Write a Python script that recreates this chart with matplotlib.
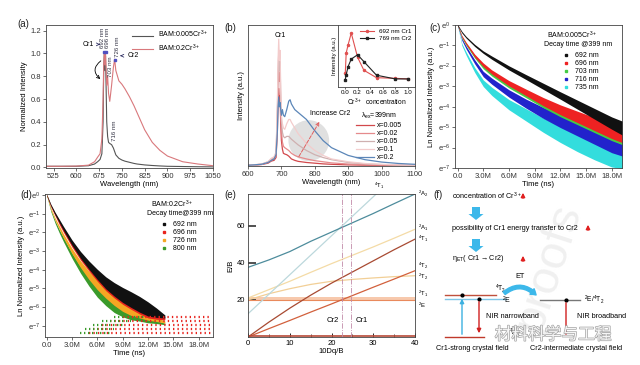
import numpy as np
import matplotlib.pyplot as plt
import matplotlib.patheffects as pe
from matplotlib.patches import FancyArrow, Ellipse
from matplotlib.lines import Line2D

plt.rcParams['font.family'] = ['Liberation Sans', 'DejaVu Sans']
plt.rcParams['mathtext.default'] = 'regular'
plt.rcParams['font.size'] = 5.5
plt.rcParams['axes.linewidth'] = 0.6
plt.rcParams['axes.edgecolor'] = '#444444'

# ---------------- data ----------------
# (a) normalized emission spectra
wl_a = [500, 550, 600, 640, 660, 670, 678, 684, 688, 690, 692, 694, 696, 698, 700, 703, 706, 710,
        716, 722, 726, 730, 740, 750, 760, 775, 790, 800, 825, 850, 875, 900, 950, 1000, 1050]
bam_005 = [0.01, 0.01, 0.01, 0.015, 0.03, 0.05, 0.07, 0.12, 0.4, 0.85, 1.0, 0.85, 0.98, 0.7, 0.4,
           0.27, 0.22, 0.21, 0.2, 0.17, 0.14, 0.11, 0.08, 0.065, 0.055, 0.045, 0.035, 0.03, 0.022,
           0.017, 0.013, 0.01, 0.008, 0.006, 0.005]
bam_02 = [0.01, 0.01, 0.012, 0.02, 0.05, 0.09, 0.12, 0.25, 0.6, 0.9, 1.0, 0.9, 1.0, 0.85, 0.72,
          0.8, 0.65, 0.58, 0.72, 0.88, 0.95, 0.85, 0.76, 0.73, 0.69, 0.62, 0.54, 0.48, 0.33, 0.22,
          0.15, 0.1, 0.05, 0.03, 0.015]

# (b) emission vs Cr content
wl_b = [600, 640, 660, 670, 678, 684, 688, 690, 692, 694, 696, 698, 700, 703, 706, 710, 716, 722,
        726, 730, 740, 750, 775, 800, 825, 850, 900, 950, 1000, 1050, 1100]
em_x0005 = [0.005, 0.01, 0.02, 0.035, 0.04, 0.06, 0.25, 0.45, 0.55, 0.45, 0.5, 0.3, 0.18, 0.12,
            0.09, 0.085, 0.08, 0.07, 0.06, 0.05, 0.04, 0.033, 0.025, 0.02, 0.015, 0.012, 0.008,
            0.006, 0.005, 0.004, 0.003]
em_x002 = [0.005, 0.012, 0.025, 0.045, 0.05, 0.08, 0.35, 0.6, 0.72, 0.6, 0.66, 0.4, 0.25, 0.17,
           0.14, 0.13, 0.12, 0.11, 0.1, 0.09, 0.075, 0.065, 0.05, 0.038, 0.03, 0.022, 0.014, 0.01,
           0.007, 0.005, 0.004]
em_x005 = [0.005, 0.012, 0.03, 0.05, 0.06, 0.09, 0.4, 0.68, 0.8, 0.68, 0.74, 0.5, 0.32, 0.24,
           0.21, 0.2, 0.21, 0.21, 0.2, 0.19, 0.17, 0.15, 0.11, 0.08, 0.06, 0.045, 0.025, 0.015,
           0.01, 0.007, 0.005]
em_x01 = [0.005, 0.014, 0.03, 0.055, 0.065, 0.1, 0.45, 0.75, 0.9, 0.75, 0.82, 0.55, 0.36, 0.3,
          0.27, 0.26, 0.3, 0.33, 0.33, 0.31, 0.27, 0.23, 0.16, 0.11, 0.075, 0.05, 0.03, 0.018,
          0.012, 0.008, 0.006]
em_x02 = [0.005, 0.012, 0.025, 0.04, 0.05, 0.08, 0.25, 0.42, 0.49, 0.42, 0.45, 0.4, 0.36, 0.4,
          0.36, 0.35, 0.4, 0.46, 0.47, 0.44, 0.4, 0.38, 0.33, 0.25, 0.18, 0.13, 0.075, 0.045,
          0.028, 0.018, 0.012]
b_labels = ['x=0.005', 'x=0.02', 'x=0.05', 'x=0.1', 'x=0.2']

# (b) inset
conc = [0.005, 0.02, 0.05, 0.1, 0.2, 0.3, 0.5, 0.8, 1.0]
int_cr1 = [0.22, 0.55, 0.68, 0.87, 0.48, 0.27, 0.15, 0.14, 0.13]
int_cr2 = [0.12, 0.2, 0.33, 0.45, 0.52, 0.41, 0.19, 0.13, 0.13]

# (c) decay, BAM:0.005Cr  (ln intensity, centre and half spread)
t_c = [0, 0.5, 1, 2, 3, 4, 6, 8, 10, 12, 14, 16, 18, 19.5]
c_labels = ['692 nm', '696 nm', '703 nm', '716 nm', '735 nm']
c_mid = [
    [0, -0.35, -0.6, -1.0, -1.33, -1.6, -2.1, -2.55, -3.0, -3.45, -3.9, -4.35, -4.8, -5.1],
    [0, -0.55, -0.9, -1.5, -1.95, -2.3, -2.85, -3.3, -3.75, -4.15, -4.5, -4.85, -5.2, -5.4],
    [0, -0.6, -0.95, -1.55, -2.05, -2.4, -2.95, -3.4, -3.85, -4.25, -4.6, -4.95, -5.3, -5.5],
    [0, -0.7, -1.1, -1.8, -2.4, -2.75, -3.35, -3.85, -4.3, -4.7, -5.05, -5.4, -5.75, -5.9],
    [0, -0.95, -1.4, -2.2, -2.85, -3.25, -3.9, -4.4, -4.9, -5.35, -5.75, -6.1, -6.4, -6.5],
]
c_spread = [
    [0.03, 0.04, 0.04, 0.05, 0.06, 0.08, 0.1, 0.12, 0.15, 0.18, 0.22, 0.26, 0.3, 0.35],
    [0.03, 0.04, 0.05, 0.07, 0.09, 0.1, 0.13, 0.16, 0.2, 0.24, 0.28, 0.32, 0.36, 0.4],
    [0.03, 0.04, 0.05, 0.07, 0.09, 0.1, 0.13, 0.16, 0.2, 0.24, 0.28, 0.32, 0.36, 0.4],
    [0.03, 0.05, 0.07, 0.1, 0.13, 0.15, 0.18, 0.22, 0.27, 0.32, 0.38, 0.44, 0.5, 0.55],
    [0.03, 0.05, 0.08, 0.12, 0.16, 0.2, 0.25, 0.3, 0.35, 0.4, 0.45, 0.5, 0.55, 0.55],
]

# (d) decay, BAM:0.2Cr
t_d = [0, 0.5, 1, 1.5, 2, 3, 4, 5, 6, 7, 8, 9, 10, 11, 12, 13, 14]
d_labels = ['692 nm', '696 nm', '726 nm', '800 nm']
d_mid = [
    [0, -0.55, -1.0, -1.4, -1.8, -2.55, -3.2, -3.75, -4.25, -4.7, -5.05, -5.35, -5.6, -5.85,
     -6.1, -6.3, -6.5],
    [0, -0.6, -1.05, -1.5, -1.9, -2.65, -3.3, -3.85, -4.35, -4.8, -5.15, -5.45, -5.7, -5.95,
     -6.2, -6.4, -6.6],
    [0, -0.75, -1.3, -1.75, -2.2, -3.0, -3.7, -4.3, -4.8, -5.2, -5.55, -5.85, -6.1, -6.3, -6.5,
     -6.65, -6.8],
    [0, -0.85, -1.45, -1.95, -2.4, -3.25, -4.0, -4.65, -5.2, -5.6, -5.95, -6.2, -6.4, -6.55,
     -6.7, -6.8, -6.9],
]
d_spread = [
    [0.03, 0.05, 0.07, 0.09, 0.11, 0.14, 0.18, 0.22, 0.27, 0.32, 0.36, 0.4, 0.42, 0.42, 0.38,
     0.25, 0.08],
    [0.03, 0.05, 0.07, 0.09, 0.11, 0.14, 0.18, 0.22, 0.27, 0.32, 0.36, 0.4, 0.42, 0.42, 0.38,
     0.25, 0.08],
    [0.03, 0.05, 0.07, 0.09, 0.11, 0.14, 0.18, 0.22, 0.27, 0.32, 0.36, 0.38, 0.35, 0.28, 0.2,
     0.12, 0.05],
    [0.03, 0.05, 0.07, 0.09, 0.11, 0.14, 0.18, 0.22, 0.27, 0.32, 0.34, 0.32, 0.28, 0.2, 0.14,
     0.08, 0.04],
]
floor_levels = [-6.53, -6.74, -6.95, -7.18, -7.41]
floor_start = [9.0, 7.5, 6.5, 5.5, 5.0]

# (e) Tanabe-Sugano diagram
dq = [0, 5, 10, 15, 20, 25, 30, 35, 40]
ts_2A2 = [37.5, 41.5, 46, 51.5, 56.5, 61.5, 66.5, 71.8, 77]
ts_4T1P = [12.5, 23, 33.5, 44, 54.5, 65, 75.5, 86, 96.5]
ts_2A1 = [21, 25.5, 30, 34.8, 39.5, 44, 48.5, 53.2, 58]
ts_4T1 = [0, 8, 15.5, 22.5, 29, 35, 41, 47, 52.7]
ts_4T2 = [0, 4.5, 8.9, 13.4, 17.8, 22.3, 26.8, 31.2, 35.7]
ts_2T2 = [20, 23.3, 26, 28.3, 30, 31, 31.8, 32.5, 33]
ts_2E = [20, 20, 20, 20, 20, 20, 20, 20, 20]
cr2_dq, cr1_dq = 22.6, 24.7

# ---------------- figure ----------------
fig = plt.figure(figsize=(6.4, 3.65), dpi=100)


def box(l, t, r, b):
    return [l / 640, 1 - b / 365, (r - l) / 640, (b - t) / 365]


def style(ax):
    ax.tick_params(length=2, width=0.5, pad=1.5, labelsize=5.5, colors='#333333')


# (a)
ax = fig.add_axes(box(46, 25, 213, 168))
ax.plot(wl_a, bam_005, color='#555555', lw=0.8, label='BAM:0.005Cr$^{3+}$')
ax.plot(wl_a, bam_02, color='#d9787c', lw=0.8, label='BAM:0.2Cr$^{3+}$')
ax.set_xlim(500, 1050)
ax.set_ylim(-0.005, 1.25)
ax.set_xticks([525, 600, 675, 750, 825, 900, 975, 1050])
ax.set_yticks([0, 0.2, 0.4, 0.6, 0.8, 1.0, 1.2])
ax.set_xlabel('Wavelength (nm)', labelpad=1)
ax.set_ylabel('Normalized Intensity', labelpad=2)
style(ax)
ax.legend(loc='upper right', frameon=False, fontsize=5, handlelength=3, borderaxespad=0.2,
          labelspacing=0.3)
for x0, y0, s in [(686, 1.05, '692 nm'), (703, 1.05, '696 nm'), (714, 0.79, '703 nm'),
                  (737, 0.97, '726 nm'), (727, 0.23, '716 nm')]:
    ax.text(x0, y0, s, rotation=90, fontsize=4.4, ha='center', va='bottom', color='#333344')
ax.plot([692, 696, 726], [1.01, 1.01, 0.94], 's', ms=1.5, color='#5050c0')
ax.annotate('Cr1', xy=(678, 1.08), xytext=(640, 1.08), fontsize=5, va='center', ha='center',
            arrowprops=dict(arrowstyle='->', lw=0.6, color='#333366'))
ax.annotate('Cr2', xy=(744, 0.98), xytext=(786, 0.98), fontsize=5, va='center', ha='center',
            arrowprops=dict(arrowstyle='->', lw=0.6, color='#333366'))
ax.annotate('', xy=(686, 0.76), xytext=(688, 0.95),
            arrowprops=dict(arrowstyle='->', lw=0.6, color='black',
                            connectionstyle='arc3,rad=0.7'))

# (b)
ax = fig.add_axes(box(248, 25, 415, 166))
b_cols = ['#d2484c', '#e58a8c', '#cfb0b0', '#f3cccc', '#5b86b8']
for ys, c, lab in zip([em_x0005, em_x002, em_x005, em_x01, em_x02], b_cols, b_labels):
    ax.plot(wl_b, ys, color=c, lw=0.9, label=lab)
ax.set_xlim(600, 1100)
ax.set_ylim(0, 1)
ax.set_yticks([])
ax.set_xticks([600, 700, 800, 900, 1000, 1100])
ax.set_xlabel('Wavelength (nm)', labelpad=1)
ax.set_ylabel('Intensity (a.u.)', labelpad=2)
style(ax)
ax.add_patch(Ellipse((782, 0.18), 122, 0.29, color='#cccccc', alpha=0.6, zorder=0, lw=0))
ax.annotate('', xy=(818, 0.33), xytext=(748, 0.05),
            arrowprops=dict(arrowstyle='->', lw=0.7, ls='--', color='#e06060'))
ax.text(845, 0.35, 'Increase Cr2', fontsize=5, ha='center', va='bottom')
ax.text(697, 0.9, 'Cr1', fontsize=5, ha='center', va='bottom')
ax.legend(loc='upper left', bbox_to_anchor=(0.62, 0.42), frameon=False, fontsize=5,
          title='$\\lambda_{ex}$=399nm', title_fontsize=5, handlelength=2.6,
          labelspacing=0.15, borderpad=0.1, handletextpad=0.4)

axi = fig.add_axes(box(338, 25, 415, 87))
axi.plot(conc, int_cr1, '-o', color='#e05050', ms=1.5, lw=0.8, label='692 nm Cr1')
axi.plot(conc, int_cr2, '-s', color='#222222', ms=1.5, lw=0.8, label='769 nm Cr2')
axi.set_xlim(-0.11, 1.11)
axi.set_ylim(0, 1)
axi.set_yticks([])
axi.set_xticks([0, 0.2, 0.4, 0.6, 0.8, 1.0])
axi.tick_params(length=1.5, width=0.4, pad=1, labelsize=4.5)
axi.set_xlabel('Cr$^{3+}$  concentration', fontsize=4.8, labelpad=1)
axi.set_ylabel('Intensity (a.u.)', fontsize=4.3, labelpad=1)
axi.legend(loc='upper right', frameon=False, fontsize=4.5, handlelength=2.2,
           borderaxespad=0.2, labelspacing=0.2)

# (c)
ax = fig.add_axes(box(455, 25, 622, 168))
c_cols = ['#111111', '#ee2222', '#44cc44', '#2222cc', '#33dddd']
for k in range(4, -1, -1):
    m = np.array(c_mid[k])
    s = np.array(c_spread[k])
    ax.fill_between(t_c, m - s, m + s, color=c_cols[k], lw=0)
ax.set_xlim(-0.3, 19.2)
ax.set_ylim(-7, 0)
ax.set_yticks(range(0, -8, -1))
ax.set_yticklabels(['$e^{%d}$' % v for v in range(0, -8, -1)])
ax.set_xticks([0, 3, 6, 9, 12, 15, 18])
ax.set_xticklabels(['0.0', '3.0M', '6.0M', '9.0M', '12.0M', '15.0M', '18.0M'])
ax.set_xlabel('Time (ns)', labelpad=1)
ax.set_ylabel('Ln Normalized Intensity (a.u.)', labelpad=2)
style(ax)
ax.text(0.55, 0.97, 'BAM:0.005Cr$^{3+}$', transform=ax.transAxes, fontsize=5, va='top')
ax.text(0.53, 0.89, 'Decay time @399 nm', transform=ax.transAxes, fontsize=5, va='top')
hs = [Line2D([], [], ls='', marker='s', ms=1.6, color=c) for c in c_cols]
ax.legend(hs, c_labels, loc='upper left', bbox_to_anchor=(0.6, 0.84), frameon=False,
          fontsize=5, labelspacing=0.15, handletextpad=0.3, borderpad=0.1)

# (d)
ax = fig.add_axes(box(45, 194, 213, 337))
d_cols = ['#111111', '#e8231d', '#f5a623', '#3a9a2a']
for lev, st in zip(floor_levels, floor_start):
    ax.hlines(lev, st, 19.5, colors='#e8231d', lw=1.6, linestyles=(0, (0.6, 1.4)))
    ax.hlines(lev, st - 1.0, st + 2.5, colors='#3a9a2a', lw=1.6, linestyles=(0, (0.6, 1.2)))
for k in range(3, -1, -1):
    m = np.array(d_mid[k])
    s = np.array(d_spread[k])
    ax.fill_between(t_d, m - s, m + s, color=d_cols[k], lw=0)
ax.set_xlim(-0.2, 19.7)
ax.set_ylim(-7.6, 0.05)
ax.set_yticks(range(0, -8, -1))
ax.set_yticklabels(['$e^{%d}$' % v for v in range(0, -8, -1)])
ax.set_xticks([0, 3, 6, 9, 12, 15, 18])
ax.set_xticklabels(['0.0', '3.0M', '6.0M', '9.0M', '12.0M', '15.0M', '18.0M'])
ax.set_xlabel('Time (ns)', labelpad=1)
ax.set_ylabel('Ln Normalized Intensity (a.u.)', labelpad=2)
style(ax)
ax.text(0.63, 0.97, 'BAM:0.2Cr$^{3+}$', transform=ax.transAxes, fontsize=5, va='top')
ax.text(0.61, 0.89, 'Decay time@399 nm', transform=ax.transAxes, fontsize=5, va='top')
hs = [Line2D([], [], ls='', marker='s', ms=1.6, color=c) for c in d_cols]
ax.legend(hs, d_labels, loc='upper left', bbox_to_anchor=(0.64, 0.84), frameon=False,
          fontsize=5, labelspacing=0.15, handletextpad=0.3, borderpad=0.1)

# (e)
ax = fig.add_axes(box(248, 194, 415, 337))
ax.fill_between(dq, 19.3, 21.6, color='#f7c9ad', lw=0)
ax.plot(dq, ts_2E, color='#e98a5c', lw=0.8)
ax.plot(dq, ts_2T2, color='#f2cf96', lw=0.9)
ax.plot(dq, ts_2A1, color='#f4dba6', lw=0.9)
ax.plot(dq, ts_4T1P, color='#bcd8dc', lw=0.9)
ax.plot(dq, ts_2A2, color='#4d8c9c', lw=0.9)
ax.plot(dq, ts_4T1, color='#a84a32', lw=0.9)
ax.plot(dq, ts_4T2, color='#d2603c', lw=0.9)
ax.axhline(0.3, color='#b84a38', lw=1.2)
ax.axvline(cr2_dq, color='#c28aa8', lw=0.6, ls='-.')
ax.axvline(cr1_dq, color='#c28aa8', lw=0.6, ls='-.')
ax.text(20.3, 9, 'Cr2', fontsize=5.5, ha='center', va='center')
ax.text(27.3, 9, 'Cr1', fontsize=5.5, ha='center', va='center')
ax.set_xlim(0, 40)
ax.set_ylim(0, 77)
ax.set_yticks([20, 40, 60])
ax.set_xticks([0, 10, 20, 30, 40])
ax.set_xticks([5, 15, 25, 35], minor=True)
ax.tick_params(direction='in', length=3, width=0.6, labelsize=5.5, pad=2)
ax.tick_params(axis='y', length=6, width=1.2, color='#333333')
ax.tick_params(which='minor', direction='in', length=2, width=0.5)
ax.set_xlabel('10Dq/B', labelpad=1)
ax.set_ylabel('E/B', labelpad=2)
for yv, s in [(77, '$^2$A$_2$'), (59, '$^2$A$_1$'), (53, '$^4$T$_1$'), (38.5, '$^4$T$_2$'),
              (32.5, '$^2$T$_2$'), (23, '$^2$T$_1$'), (17, '$^2$E')]:
    ax.text(40.6, yv, s, fontsize=4.3, va='center', ha='left', clip_on=False)
ax.text(31.5, 78.5, '$^4$T$_1$', fontsize=4.3, va='bottom', ha='center', clip_on=False)

# overlay for labels and panel (f)
ov = fig.add_axes([0, 0, 1, 1], facecolor='none')
ov.set_xlim(0, 640)
ov.set_ylim(365, 0)
ov.axis('off')
ov.text(548, 268, 'proofs', fontsize=34, rotation=72, color='#f0f0f0', ha='center',
        va='center', zorder=0)
for x0, y0, s in [(17, 24, '(a)'), (224, 28, '(b)'), (429, 28, '(c)'), (20, 195, '(d)'),
                  (224, 195, '(e)'), (433, 195, '(f)')]:
    ov.text(x0, y0, s, fontsize=7, va='center', ha='left', color='#222222')

ov.text(452, 196, 'concentration of Cr$^{3+}$', fontsize=5.2, va='center')
ov.text(452, 228, 'possibility of Cr1 energy transfer to Cr2', fontsize=5.2, va='center')
ov.text(452, 259, '$\\eta_{ET}$( Cr1$\\rightarrow$Cr2)', fontsize=5.2, va='center')
for xa, ya in [(523, 196), (588, 228), (523, 259)]:
    ov.annotate('', xy=(xa, ya - 6), xytext=(xa, ya + 5),
                arrowprops=dict(arrowstyle='-|>', color='#e02020', lw=1.0, mutation_scale=6))
for ya in [207, 239]:
    ov.add_patch(FancyArrow(476, ya, 0, 7, width=8, head_width=15, head_length=6,
                            color='#3cb8ea', lw=0))

# energy levels
ov.plot([445, 496], [295, 295], color='#c0503c', lw=1.0)
ov.plot([445, 506], [299, 299], color='#7fc6e6', lw=1.0)
ov.plot([445, 484], [337, 337], color='#c0392b', lw=1.0)
ov.annotate('', xy=(462, 296), xytext=(462, 337),
            arrowprops=dict(arrowstyle='-|>', color='#3cb0e0', lw=1.0, mutation_scale=6))
ov.annotate('', xy=(479, 336), xytext=(479, 299),
            arrowprops=dict(arrowstyle='-|>', color='#d02020', lw=1.0, mutation_scale=6))
ov.plot([462, 479], [295, 299], 'o', ms=2, color='black')
ov.text(495, 289, '$^4$T$_2$', fontsize=4.8, va='center')
ov.text(502, 300, '$^2$E', fontsize=5, va='center')
ov.text(520, 276, 'ET', fontsize=5.2, ha='center', va='center')
ov.annotate('', xy=(538, 297), xytext=(502, 295),
            arrowprops=dict(arrowstyle='simple,head_width=0.9,head_length=0.7,tail_width=0.45',
                            color='#3cb8ea', connectionstyle='arc3,rad=-0.5'))
ov.plot([540, 580], [300, 300], color='#777777', lw=1.0)
ov.annotate('', xy=(566, 337), xytext=(566, 300),
            arrowprops=dict(arrowstyle='-', color='#d02020', lw=1.0))
ov.plot([566], [300], 'o', ms=2, color='black')
ov.text(584, 300, '$^2$E/$^4$T$_2$', fontsize=4.8, va='center')
ov.text(486, 317, 'NIR narrowband', fontsize=5.2, va='center')
ov.text(577, 317, 'NIR broadband', fontsize=5.2, va='center')
ov.text(509, 333, '$^4$A$_2$', fontsize=4.8, va='center')
ov.text(472, 349, 'Cr1-strong crystal field', fontsize=5.2, va='center', ha='center')
ov.text(576, 349, 'Cr2-intermediate crystal field', fontsize=5.2, va='center', ha='center')
ov.text(553, 335, '材料科学与工程', fontsize=12, va='center', ha='center', color='white',
        family=['Noto Sans CJK SC', 'DejaVu Sans'], alpha=0.9,
        path_effects=[pe.withStroke(linewidth=1.0, foreground='#9a9a9a')])

fig.savefig('out.png', dpi=100)
